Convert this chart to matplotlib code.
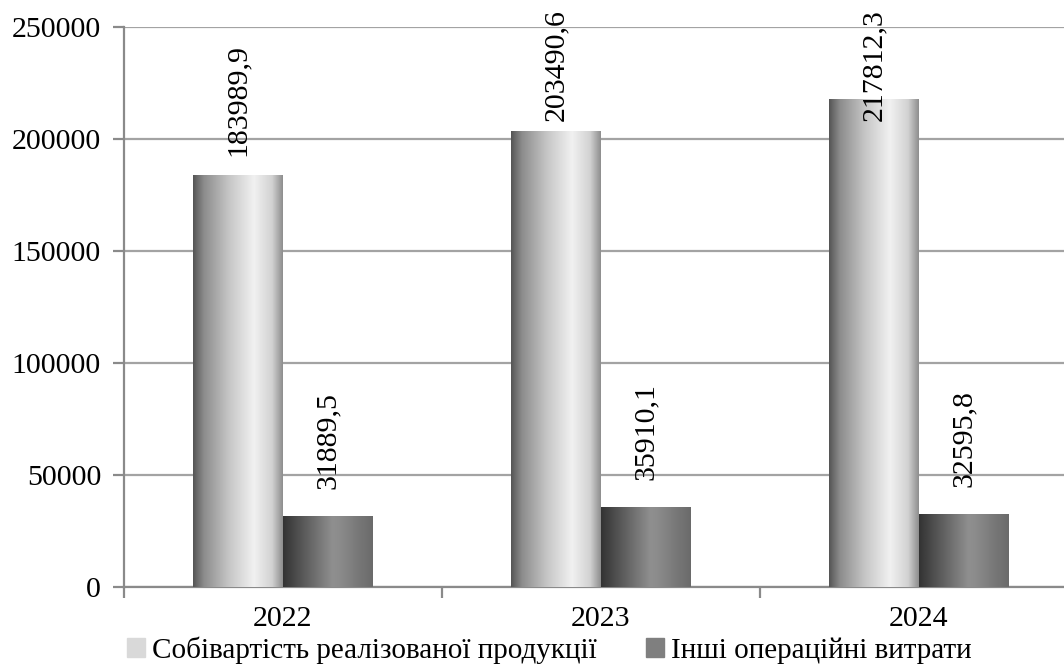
import numpy as np
import matplotlib
matplotlib.use("Agg")
from matplotlib import pyplot as plt
from matplotlib.colors import LinearSegmentedColormap

years = ["2022", "2023", "2024"]
cost_of_sales = [183989.9, 203490.6, 217812.3]
other_expenses = [31889.5, 35910.1, 32595.8]
series_names = ["Собівартість реалізованої продукції", "Інші операційні витрати"]

plt.rcParams['font.family'] = ['Liberation Serif', 'DejaVu Serif']
plt.rcParams['font.size'] = 21.5

# cylinder-like horizontal shading for the two series
light_cmap = LinearSegmentedColormap.from_list(
    "light", [(0, "#555555"), (0.12, "#8c8c8c"), (0.4, "#c6c6c6"),
              (0.68, "#f1f1f1"), (0.88, "#d2d2d2"), (1, "#8e8e8e")])
dark_cmap = LinearSegmentedColormap.from_list(
    "dark", [(0, "#333333"), (0.2, "#555555"), (0.55, "#8f8f8f"),
             (0.62, "#8c8c8c"), (0.85, "#777777"), (1, "#6a6a6a")])

fig = plt.figure(figsize=(10.64, 6.71), dpi=100)
ax = fig.add_axes([124 / 1064, 84 / 671, 954 / 1064, 560 / 671])

x = np.arange(len(years))
w = 0.283
grad = np.linspace(0, 1, 256).reshape(1, -1)


def shaded_bars(xs, vals, cmap):
    bars = ax.bar(xs, vals, width=w, color="none", edgecolor="none", zorder=3)
    for b in bars:
        im = ax.imshow(grad, cmap=cmap, aspect="auto", zorder=3,
                       extent=[b.get_x(), b.get_x() + b.get_width(), 0, b.get_height()])
        im.set_clip_path(b)
    return bars


b1 = shaded_bars(x - w / 2, cost_of_sales, light_cmap)
b2 = shaded_bars(x + w / 2, other_expenses, dark_cmap)

ax.set_xlim(-0.5, 2.5)
ax.set_ylim(0, 250000)
ax.set_yticks(np.arange(0, 250001, 50000))
ax.yaxis.grid(True, color="#a3a3a3", linewidth=1.6, zorder=0)
ax.set_axisbelow(True)

for s in ["top", "right"]:
    ax.spines[s].set_visible(False)
for s in ["left", "bottom"]:
    ax.spines[s].set_color("#8a8a8a")
    ax.spines[s].set_linewidth(1.6)

ax.set_xticks(x)
ax.set_xticklabels(years)
ax.set_xticks([-0.5, 0.5, 1.5, 2.5], minor=True)
ax.tick_params(axis="x", which="major", length=0, pad=14)
ax.tick_params(axis="x", which="minor", length=8, width=1.6, color="#8a8a8a")
ax.tick_params(axis="y", length=8, width=1.6, color="#8a8a8a", pad=8.5)

# value labels, rotated, kept inside the plot area
for xs, vals in [(x - w / 2, cost_of_sales), (x + w / 2, other_expenses)]:
    for xi, v in zip(xs, vals):
        ax.text(xi, min(v + 33500, 233000), f"{v:.1f}".replace(".", ","),
                rotation=90, ha="center", va="center", zorder=5)

handles = [plt.Rectangle((0, 0), 1, 1, color="#d9d9d9"),
           plt.Rectangle((0, 0), 1, 1, color="#7f7f7f")]
fig.legend(handles, series_names, loc="center left", bbox_to_anchor=(127 / 1064, 21 / 671),
           ncol=2, frameon=False, fontsize=21, handlelength=0.6, handleheight=0.6,
           handletextpad=0.25, columnspacing=1.7, borderaxespad=0, borderpad=0)

fig.savefig("out.png", dpi=100)
